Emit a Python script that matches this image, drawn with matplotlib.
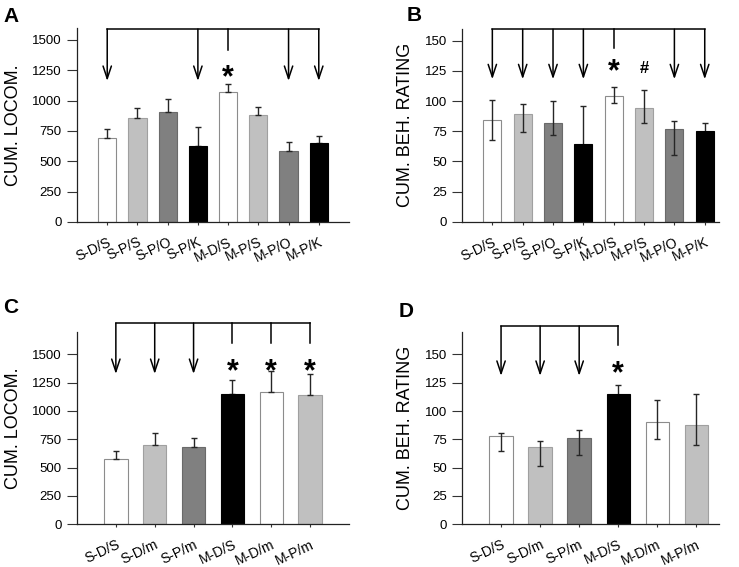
import matplotlib
matplotlib.use('Agg')
import matplotlib.pyplot as plt
from matplotlib.transforms import ScaledTranslation

plt.rcParams['font.family'] = ['Liberation Sans', 'DejaVu Sans']

# data
labels_ab = ['S-D/S', 'S-P/S', 'S-P/O', 'S-P/K', 'M-D/S', 'M-P/S', 'M-P/O', 'M-P/K']
labels_cd = ['S-D/S', 'S-D/m', 'S-P/m', 'M-D/S', 'M-D/m', 'M-P/m']

locom_a = [695, 855, 907, 628, 1069, 880, 584, 647]
locom_a_err = [75, 88, 110, 155, 66, 69, 74, 63]

rating_b = [84, 89, 82, 64, 104, 94.5, 77, 75]
rating_b_up = [16.5, 8.5, 18, 32, 7.5, 14.5, 6.5, 7]
rating_b_low = [16, 14.5, 10, 32, 5.5, 12.5, 21.5, 7]

locom_c = [576, 697, 685, 1150, 1165, 1138]
locom_c_err = [74, 112, 80, 124, 185, 186]

rating_d = [78, 68.5, 76.5, 115, 90, 88]
rating_d_up = [3, 5.3, 7, 7.6, 20, 27]
rating_d_low = [13, 16.7, 15, 7.6, 14.4, 18]

colors_ab = ['white', '#c0c0c0', '#808080', 'black', 'white', '#c0c0c0', '#808080', 'black']
colors_cd = ['white', '#c0c0c0', '#808080', 'black', 'white', '#c0c0c0']
edge = {'white': '#8c8c8c', '#c0c0c0': '#a0a0a0', '#808080': '#6a6a6a', 'black': 'black'}

W, H = 739, 567
fig = plt.figure(figsize=(W / 100, H / 100), dpi=100)


def px_axes(left, right, bottom, top):
    return fig.add_axes([left / W, 1 - bottom / H, (right - left) / W, (bottom - top) / H])


def panel(ax, labels, vals, low, up, colors, ylim, yticks, ylabel, xlim):
    x = list(range(len(vals)))
    ax.bar(x, vals, width=0.6, color=colors,
           edgecolor=[edge[c] for c in colors], linewidth=0.8, zorder=2)
    # whiskers go over the light bars but under the black ones
    for dark in (False, True):
        idx = [i for i in x if (colors[i] == 'black') == dark]
        ax.errorbar([x[i] for i in idx], [vals[i] for i in idx],
                    yerr=[[low[i] for i in idx], [up[i] for i in idx]],
                    fmt='none', ecolor='#262626', elinewidth=1.0, capsize=2.5,
                    capthick=1.0, zorder=1.5 if dark else 3)
    ax.set_xlim(*xlim)
    ax.set_ylim(*ylim)
    ax.set_yticks(yticks)
    ax.set_xticks(x)
    ax.set_xticklabels(labels, rotation=25, ha='right', va='top',
                       rotation_mode='anchor', fontsize=10)
    for lab in ax.get_xticklabels():
        lab.set_transform(lab.get_transform() + ScaledTranslation(4 / 100, 0, fig.dpi_scale_trans))
    ax.tick_params(axis='y', direction='out', length=7, width=0.8, pad=4,
                   labelsize=9.5, color='#333333')
    ax.tick_params(axis='x', direction='out', length=2.5, width=0.8, pad=7,
                   color='#333333')
    for s in ['top', 'right']:
        ax.spines[s].set_visible(False)
    for s in ['left', 'bottom']:
        ax.spines[s].set_linewidth(0.9)
        ax.spines[s].set_color('#222222')
    ax.set_ylabel(ylabel, fontsize=13)


def bracket(ax, top, arrows, tip, stems, stem_end):
    xs = arrows + stems
    ax.plot([min(xs), max(xs)], [top, top], color='black', lw=1.1, clip_on=False,
            solid_capstyle='projecting', zorder=4)
    for i in arrows:
        ax.annotate('', xy=(i, tip), xytext=(i, top), annotation_clip=False,
                    arrowprops=dict(arrowstyle='->,head_length=0.9,head_width=0.3',
                                    mutation_scale=10, lw=1.1, color='black',
                                    shrinkA=0, shrinkB=0))
    for i in stems:
        ax.plot([i, i], [top, stem_end], color='black', lw=1.1, clip_on=False, zorder=4)


def mark(ax, i, y, s, size, dy):
    ax.annotate(s, xy=(i, y), xytext=(0, dy), textcoords='offset points',
                ha='center', va='baseline', fontsize=size, fontweight='bold',
                annotation_clip=False)


axA = px_axes(77, 349, 222, 27.8)
panel(axA, labels_ab, locom_a, [0] * 8, locom_a_err, colors_ab, (0, 1600),
      [0, 250, 500, 750, 1000, 1250, 1500], 'CUM. LOCOM.', (-1, 8))
bracket(axA, 1590, [0, 3, 6, 7], 1162, [4], 1418)
mark(axA, 4, 1253, '*', 22, -12)

axB = px_axes(462, 719, 221.7, 28.6)
panel(axB, labels_ab, rating_b, rating_b_low, rating_b_up, colors_ab, (0, 160),
      [0, 25, 50, 75, 100, 125, 150], 'CUM. BEH. RATING', (-1, 7.47))
bracket(axB, 159.5, [0, 1, 2, 3, 6, 7], 118, [4], 143.7)
mark(axB, 4, 131, '*', 22, -12)
mark(axB, 5, 128, '#', 12, -4.2)

axC = px_axes(77, 349, 524.3, 331.6)
panel(axC, labels_cd, locom_c, [0] * 6, locom_c_err, colors_cd, (0, 1700),
      [0, 250, 500, 750, 1000, 1250, 1500], 'CUM. LOCOM.', (-1, 6))
bracket(axC, 1775, [0, 1, 2], 1326, [3, 4, 5], 1603)
for i in [3, 4, 5]:
    mark(axC, i, 1421, '*', 22, -12)

axD = px_axes(462, 719, 524.3, 331.7)
panel(axD, labels_cd, rating_d, rating_d_low, rating_d_up, colors_cd, (0, 170),
      [0, 25, 50, 75, 100, 125, 150], 'CUM. BEH. RATING', (-1, 5.58))
bracket(axD, 175, [0, 1, 2], 131, [3], 158)
mark(axD, 3, 140.5, '*', 22, -12)

# y labels: anchor is the right edge of the rotated text
for ax, lx in [(axA, (22 - 77) / 272), (axC, (22 - 77) / 272),
               (axB, (414 - 462) / 257), (axD, (414 - 462) / 257)]:
    ax.yaxis.set_label_coords(lx, 0.5)

for t, x, y in [('A', 3, 22), ('B', 407, 21), ('C', 3, 313), ('D', 399, 317)]:
    fig.text(x / W, 1 - y / H, t, fontsize=15, fontweight='bold', va='baseline', ha='left')

fig.savefig('out.png', dpi=100)
